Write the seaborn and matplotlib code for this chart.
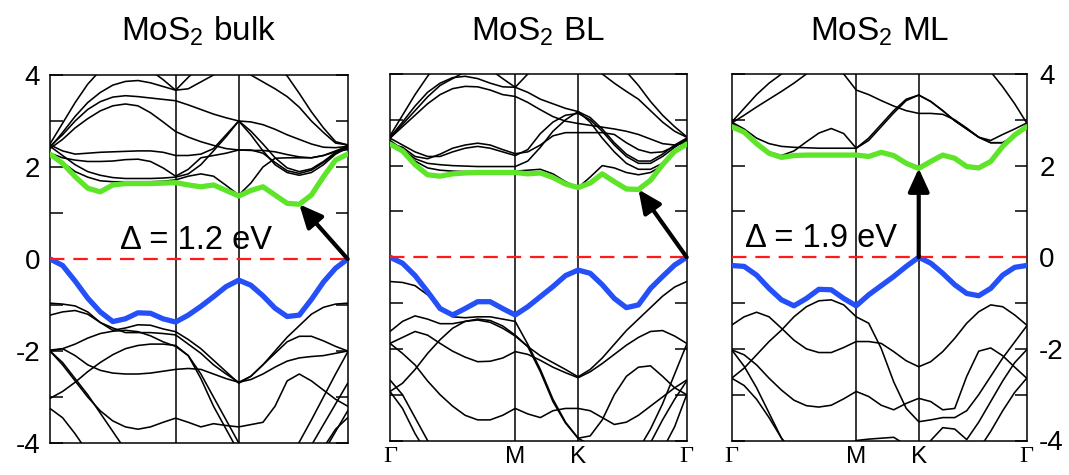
import numpy as np
import matplotlib
matplotlib.use("Agg")
import matplotlib.pyplot as plt
import seaborn as sns

# ---------------- k-path (fraction of path length) ----------------
hs_pos = [0.0, 0.422, 0.634, 1.0]
hs_labels = ["Γ", "M", "K", "Γ"]
seg_points = [11, 6, 10]   # samples per segment (shared ends)

# ---------------- MoS2 bulk ----------------
bulk_cbm = [2.28, 2.08, 1.79, 1.54, 1.46, 1.61, 1.64, 1.64, 1.64, 1.65, 1.66,
            1.61, 1.57, 1.61, 1.49, 1.37,
            1.49, 1.57, 1.39, 1.21, 1.19, 1.39, 1.79, 2.15, 2.28]
bulk_vbm = [0.0, -0.14, -0.48, -0.85, -1.15, -1.36, -1.30, -1.17, -1.18, -1.30, -1.37,
            -1.22, -1.03, -0.82, -0.60, -0.46,
            -0.57, -0.80, -1.07, -1.25, -1.22, -0.88, -0.50, -0.20, 0.0]
bulk_cond = [
    [2.30, 2.10, 1.90, 1.78, 1.70, 1.68, 1.68, 1.68, 1.68, 1.69, 1.72, 1.80, 1.85, 1.80, 1.60, 1.39, 1.65, 2.00, 2.19, 2.20, 2.20, 2.20, 2.25, 2.33, 2.38],
    [2.45, 2.25, 2.05, 1.90, 1.82, 1.77, 1.75, 1.75, 1.75, 1.76, 1.78, 1.85, 2.05, 2.35, 2.66, 3.00, 2.70, 2.35, 2.05, 1.88, 1.82, 1.88, 2.05, 2.28, 2.42],
    [2.30, 2.20, 2.15, 2.12, 2.12, 2.13, 2.16, 2.17, 2.12, 1.98, 1.80, 1.95, 2.20, 2.25, 2.30, 2.37, 2.37, 2.30, 2.10, 1.92, 1.86, 1.93, 2.10, 2.30, 2.45],
    [2.48, 2.35, 2.28, 2.30, 2.32, 2.33, 2.34, 2.35, 2.35, 2.32, 2.25, 2.25, 2.28, 2.40, 2.70, 3.00, 2.78, 2.50, 2.20, 1.98, 1.90, 1.96, 2.12, 2.32, 2.48],
    [2.40, 2.60, 2.85, 3.05, 3.22, 3.33, 3.37, 3.33, 3.18, 2.98, 2.77, 2.65, 2.55, 2.47, 2.40, 2.37, 2.36, 2.36, 2.33, 2.27, 2.22, 2.20, 2.25, 2.35, 2.45],
    [2.45, 2.70, 3.00, 3.25, 3.42, 3.52, 3.55, 3.53, 3.50, 3.47, 3.44, 3.35, 3.25, 3.15, 3.07, 3.00, 2.98, 2.92, 2.82, 2.70, 2.60, 2.50, 2.43, 2.42, 2.45],
    [2.50, 2.95, 3.40, 3.80, 4.10, 4.30, 4.40, 4.30, 4.10, 3.90, 3.67, 3.95, 4.20, 4.40, 4.40, 4.40, 4.00, 3.85, 3.70, 3.53, 3.30, 3.00, 2.75, 2.52, 2.48],
    [2.42, 2.75, 3.10, 3.40, 3.62, 3.78, 3.86, 3.88, 3.83, 3.75, 3.67, 3.70, 3.85, 4.00, 4.20, 4.40, 4.40, 4.30, 4.20, 3.98, 3.60, 3.20, 2.85, 2.55, 2.48],
]
bulk_val = [
    [-0.96, -0.98, -1.02, -1.15, -1.38, -1.55, -1.50, -1.43, -1.44, -1.52, -1.58, -1.75, -1.95, -2.20, -2.45, -2.70, -2.55, -2.30, -2.00, -1.70, -1.45, -1.20, -1.05, -0.98, -0.96],
    [-1.22, -1.15, -1.12, -1.20, -1.38, -1.50, -1.60, -1.60, -1.60, -1.62, -1.65, -1.85, -2.05, -2.30, -2.50, -2.68, -2.55, -2.30, -2.05, -1.80, -1.68, -1.68, -1.78, -1.90, -2.00],
    [-2.00, -1.95, -1.85, -1.72, -1.62, -1.57, -1.55, -1.58, -1.67, -1.80, -1.90, -2.10, -2.60, -3.20, -3.70, -4.20, -4.40, -4.40, -4.40, -4.40, -4.40, -4.05, -3.60, -3.15, -2.70],
    [-1.98, -1.95, -2.10, -2.30, -2.42, -2.48, -2.50, -2.50, -2.48, -2.44, -2.40, -2.38, -2.40, -2.50, -2.60, -2.68, -2.62, -2.50, -2.35, -2.22, -2.15, -2.12, -2.10, -2.05, -2.00],
    [-3.03, -2.88, -2.68, -2.45, -2.25, -2.08, -1.95, -1.88, -1.85, -1.85, -1.88, -2.10, -2.50, -3.00, -3.50, -4.00, -4.40, -4.40, -4.40, -4.30, -3.98, -3.50, -3.00, -2.50, -2.02],
    [-2.00, -2.30, -2.65, -3.00, -3.30, -3.52, -3.65, -3.70, -3.65, -3.55, -3.46, -3.55, -3.65, -3.58, -3.62, -3.65, -3.60, -3.55, -3.20, -2.65, -2.50, -2.65, -2.85, -3.05, -3.20],
    [-2.00, -2.25, -2.60, -2.95, -3.35, -3.75, -4.15, -4.40, -4.40, -4.40, -4.40, -4.40, -4.40, -4.40, -4.40, -4.40, -4.40, -4.40, -4.40, -4.40, -4.40, -4.40, -4.20, -3.75, -3.30],
    [-3.25, -3.45, -3.80, -4.20, -4.40, -4.40, -4.40, -4.40, -4.40, -4.40, -4.40, -4.40, -4.40, -4.40, -4.40, -4.40, -4.40, -4.40, -4.40, -4.40, -4.40, -4.40, -4.10, -3.70, -3.45],
]

# ---------------- MoS2 bilayer ----------------
bl_cbm = [2.47, 2.32, 2.02, 1.80, 1.77, 1.82, 1.84, 1.85, 1.85, 1.85, 1.85,
          1.82, 1.84, 1.74, 1.60, 1.52,
          1.62, 1.82, 1.65, 1.49, 1.48, 1.68, 2.02, 2.31, 2.47]
bl_vbm = [0.0, -0.13, -0.40, -0.75, -1.12, -1.26, -1.12, -0.97, -0.97, -1.12, -1.26,
          -1.08, -0.86, -0.64, -0.40, -0.28,
          -0.35, -0.60, -0.90, -1.10, -1.04, -0.68, -0.42, -0.17, 0.0]
bl_cond = [
    [2.45, 2.30, 2.10, 1.95, 1.90, 1.88, 1.87, 1.87, 1.87, 1.87, 1.88, 1.90, 1.92, 1.82, 1.65, 1.52, 1.75, 2.00, 1.95, 1.85, 1.80, 1.85, 2.00, 2.28, 2.50],
    [2.55, 2.35, 2.15, 2.05, 2.02, 2.00, 1.99, 1.98, 1.98, 1.98, 1.98, 2.10, 2.40, 2.75, 3.00, 3.18, 2.95, 2.60, 2.30, 2.05, 1.92, 1.92, 2.05, 2.30, 2.52],
    [2.48, 2.40, 2.20, 2.15, 2.25, 2.38, 2.45, 2.49, 2.45, 2.35, 2.26, 2.30, 2.45, 2.65, 2.72, 2.72, 2.72, 2.72, 2.68, 2.50, 2.35, 2.28, 2.30, 2.42, 2.55],
    [2.60, 2.45, 2.30, 2.20, 2.20, 2.30, 2.38, 2.42, 2.38, 2.30, 2.22, 2.35, 2.70, 2.95, 3.10, 3.14, 3.00, 2.75, 2.45, 2.20, 2.05, 2.05, 2.20, 2.40, 2.58],
    [2.60, 2.85, 3.10, 3.35, 3.55, 3.68, 3.73, 3.72, 3.65, 3.55, 3.51, 3.38, 3.22, 3.07, 2.97, 2.92, 2.88, 2.84, 2.80, 2.75, 2.68, 2.58, 2.48, 2.45, 2.50],
    [2.62, 2.95, 3.30, 3.60, 3.80, 3.92, 3.95, 3.90, 3.80, 3.72, 3.71, 3.60, 3.45, 3.35, 3.25, 3.18, 3.05, 2.80, 2.50, 2.25, 2.10, 2.10, 2.25, 2.45, 2.60],
    [2.65, 3.10, 3.55, 3.95, 4.30, 4.40, 4.40, 4.30, 4.10, 3.90, 3.71, 4.00, 4.30, 4.40, 4.40, 4.40, 4.30, 4.00, 3.80, 3.62, 3.45, 3.20, 2.95, 2.75, 2.62],
    [2.60, 2.90, 3.20, 3.50, 3.75, 3.90, 4.05, 4.20, 4.30, 4.40, 4.40, 4.40, 4.40, 4.40, 4.40, 4.40, 4.40, 4.40, 4.30, 4.05, 3.75, 3.40, 3.10, 2.85, 2.63],
]
bl_val = [
    [-0.53, -0.55, -0.62, -0.82, -1.10, -1.30, -1.32, -1.30, -1.30, -1.35, -1.40, -1.90, -2.45, -3.10, -3.60, -3.95, -4.10, -4.25, -4.40, -4.40, -4.20, -3.75, -3.20, -2.55, -1.90],
    [-1.62, -1.40, -1.28, -1.35, -1.45, -1.45, -1.40, -1.35, -1.38, -1.50, -1.70, -1.95, -2.15, -2.30, -2.45, -2.61, -2.45, -2.20, -1.90, -1.60, -1.35, -1.10, -0.85, -0.65, -0.53],
    [-1.88, -1.75, -1.62, -1.70, -1.88, -2.05, -2.18, -2.28, -2.27, -2.20, -2.06, -2.12, -2.25, -2.40, -2.52, -2.63, -2.50, -2.32, -2.12, -1.92, -1.75, -1.62, -1.60, -1.72, -1.88],
    [-2.93, -2.75, -2.45, -2.10, -1.80, -1.55, -1.40, -1.37, -1.42, -1.55, -1.72, -1.95, -2.50, -3.15, -3.62, -3.95, -3.90, -3.55, -3.00, -2.60, -2.40, -2.37, -2.60, -2.85, -3.00],
    [-1.88, -2.10, -2.35, -2.70, -3.00, -3.25, -3.45, -3.55, -3.55, -3.45, -3.30, -3.42, -3.50, -3.35, -3.30, -3.30, -3.35, -3.50, -3.65, -3.60, -3.45, -3.25, -3.05, -2.85, -2.68],
    [-2.68, -3.00, -3.50, -4.00, -4.40, -4.40, -4.40, -4.40, -4.40, -4.40, -4.40, -4.40, -4.40, -4.40, -4.40, -4.40, -4.40, -4.40, -4.40, -4.40, -4.40, -4.05, -3.55, -3.10, -2.70],
    [-2.93, -3.30, -3.85, -4.30, -4.40, -4.40, -4.40, -4.40, -4.40, -4.40, -4.40, -4.40, -4.40, -4.40, -4.40, -4.40, -4.40, -4.40, -4.40, -4.40, -4.40, -4.40, -4.20, -3.70, -3.00],
]

# ---------------- MoS2 monolayer ----------------
ml_cbm = [2.85, 2.73, 2.48, 2.27, 2.18, 2.22, 2.23, 2.23, 2.23, 2.23, 2.23,
          2.20, 2.29, 2.22, 2.05, 1.94,
          2.09, 2.23, 2.16, 1.98, 1.95, 2.09, 2.42, 2.67, 2.85]
ml_vbm = [-0.18, -0.20, -0.39, -0.68, -0.93, -1.06, -0.90, -0.70, -0.71, -0.90, -1.06,
          -0.82, -0.62, -0.42, -0.20, 0.0,
          -0.13, -0.35, -0.60, -0.79, -0.84, -0.68, -0.39, -0.22, -0.18]
ml_cond = [
    [2.93, 2.72, 2.50, 2.30, 2.22, 2.32, 2.52, 2.71, 2.81, 2.70, 2.38, 2.60, 2.90, 3.20, 3.45, 3.54, 3.40, 3.20, 2.98, 2.80, 2.62, 2.50, 2.50, 2.65, 2.90],
    [2.95, 2.80, 2.60, 2.48, 2.42, 2.40, 2.39, 2.38, 2.38, 2.38, 2.38, 2.55, 2.85, 3.15, 3.42, 3.54, 3.40, 3.20, 2.98, 2.80, 2.62, 2.50, 2.50, 2.65, 2.90],
    [2.95, 3.25, 3.55, 3.80, 4.00, 4.30, 4.40, 4.40, 4.30, 4.00, 3.65, 3.55, 3.42, 3.30, 3.20, 3.14, 3.14, 3.12, 3.00, 2.82, 2.62, 2.55, 2.68, 2.80, 2.93],
    [2.93, 3.10, 3.28, 3.45, 3.62, 3.80, 4.00, 4.30, 4.40, 4.40, 4.40, 4.40, 4.40, 4.40, 4.40, 4.40, 4.40, 4.40, 4.40, 4.40, 4.40, 4.05, 3.72, 3.35, 2.93],
]
ml_val = [
    [-1.48, -1.30, -1.20, -1.30, -1.55, -1.81, -2.00, -2.08, -2.08, -1.97, -1.84, -1.84, -1.88, -2.06, -2.26, -2.39, -2.28, -2.06, -1.77, -1.44, -1.19, -1.04, -1.08, -1.26, -1.48],
    [-2.64, -2.42, -2.13, -1.84, -1.59, -1.30, -1.08, -0.95, -0.93, -1.04, -1.30, -1.44, -1.99, -2.72, -3.30, -3.59, -3.55, -3.50, -3.50, -3.35, -3.00, -2.60, -2.20, -1.85, -1.50],
    [-2.02, -2.13, -2.35, -2.64, -2.90, -3.12, -3.24, -3.27, -3.23, -3.09, -2.93, -3.04, -3.23, -3.33, -3.19, -3.08, -3.15, -3.33, -3.30, -2.60, -2.05, -1.98, -2.15, -2.40, -2.64],
    [-2.02, -2.38, -2.85, -3.40, -3.95, -4.30, -4.40, -4.40, -4.40, -4.20, -4.00, -3.97, -3.95, -3.93, -4.10, -4.40, -4.00, -3.72, -3.75, -3.98, -3.60, -3.15, -2.70, -2.30, -2.02],
    [-2.64, -2.80, -3.10, -3.50, -3.95, -4.30, -4.40, -4.40, -4.40, -4.40, -4.40, -4.40, -4.40, -4.40, -4.40, -4.40, -4.40, -4.40, -4.40, -4.40, -4.20, -3.80, -3.35, -2.95, -2.64],
]

titles = ["MoS$_2$ bulk", "MoS$_2$ BL", "MoS$_2$ ML"]
# (index of VBM, index of CBM) on the k grid for the gap arrow
gap_index = [(24, 20), (24, 20), (15, 15)]
show_gap_text = [True, False, True]
gap_text_pos = [(0.235, 0.40), None, (0.045, 0.42)]

# ---------------- build k grid ----------------
k = np.concatenate([
    np.linspace(hs_pos[0], hs_pos[1], seg_points[0]),
    np.linspace(hs_pos[1], hs_pos[2], seg_points[1])[1:],
    np.linspace(hs_pos[2], hs_pos[3], seg_points[2])[1:],
])

panels = [
    (bulk_cbm, bulk_vbm, bulk_cond, bulk_val),
    (bl_cbm, bl_vbm, bl_cond, bl_val),
    (ml_cbm, ml_vbm, ml_cond, ml_val),
]

# ---------------- style ----------------
sns.set_theme(style="white")
plt.rcParams["font.family"] = ["Liberation Sans", "DejaVu Sans"]
plt.rcParams["mathtext.default"] = "regular"
plt.rcParams["axes.unicode_minus"] = False
plt.rcParams["text.color"] = "black"
plt.rcParams["xtick.color"] = "black"
plt.rcParams["ytick.color"] = "black"

W, H = 1069, 475
fig = plt.figure(figsize=(W / 100, H / 100), dpi=100)
fig.patch.set_facecolor("white")

rects_px = [(50, 75, 297.7, 368), (390, 74, 296.7, 366.5), (731.7, 74, 295, 366.5)]
green = "#5ee52a"
blue = "#2550f8"
red = "#ff1a1a"

for p, ((cbm, vbm, cond, val), (x0, y0, w, h)) in enumerate(zip(panels, rects_px)):
    ax = fig.add_axes([x0 / W, 1 - (y0 + h) / H, w / W, h / H])
    ax.set_facecolor("white")
    for xv in hs_pos[1:3]:
        ax.axvline(xv, color="black", lw=1.1, zorder=1)
    for band in cond + val:
        sns.lineplot(x=k, y=band, ax=ax, color="black", lw=1.15, sort=False,
                     estimator=None, legend=False, zorder=2)
    sns.lineplot(x=k, y=cbm, ax=ax, color=green, lw=3.8, sort=False,
                 estimator=None, legend=False, zorder=3)
    sns.lineplot(x=k, y=vbm, ax=ax, color=blue, lw=3.8, sort=False,
                 estimator=None, legend=False, zorder=3)
    ax.axhline(0, color=red, lw=1.6, ls=(0, (6.5, 4.0)), zorder=4)

    iv, ic = gap_index[p]
    ax.annotate("", xy=(k[ic], cbm[ic]), xytext=(k[iv], vbm[iv]),
                arrowprops=dict(arrowstyle="-|>,head_length=0.7,head_width=0.32",
                                lw=3.0, color="black", shrinkA=0, shrinkB=0,
                                mutation_scale=20), zorder=5)
    if show_gap_text[p]:
        gap = cbm[ic] - vbm[iv]
        tx, ty = gap_text_pos[p]
        ax.text(tx, ty, f"Δ = {gap:.1f} eV", fontsize=23.5, ha="left", va="center", zorder=6)

    ax.set_xlim(0, 1)
    ax.set_ylim(-4, 4)
    ax.set_xlabel("")
    ax.set_ylabel("")
    for s in ax.spines.values():
        s.set_visible(True)
        s.set_color("black")
        s.set_linewidth(1.1)

    ax.set_yticks([-4, -2, 0, 2, 4])
    ax.set_yticklabels(["-4", "-2", "0", "2", "4"])
    ax.set_yticks([-3, -1, 1, 3], minor=True)
    ax.tick_params(axis="y", which="both", direction="in", length=9, width=1.1,
                   left=True, right=True, labelsize=20)
    if p == 0:
        ax.tick_params(axis="y", labelleft=True, labelright=False, pad=7)
    elif p == 1:
        ax.tick_params(axis="y", labelleft=False, labelright=False)
    else:
        ax.tick_params(axis="y", labelleft=False, labelright=True, pad=9)

    if p == 0:
        ax.set_xticks([])
    else:
        ax.set_xticks(hs_pos)
        ax.set_xticklabels(hs_labels)
        ax.tick_params(axis="x", which="both", length=0, pad=4, labelsize=17.5, bottom=True)
        for lab in ax.get_xticklabels():
            if lab.get_text() == "Γ":
                lab.set_fontfamily(["Liberation Serif", "DejaVu Serif"])

    fig.text((x0 + w / 2) / W, 1 - 41 / H, titles[p], ha="center", va="baseline", fontsize=24)

fig.savefig("out.png", dpi=100, facecolor="white")
